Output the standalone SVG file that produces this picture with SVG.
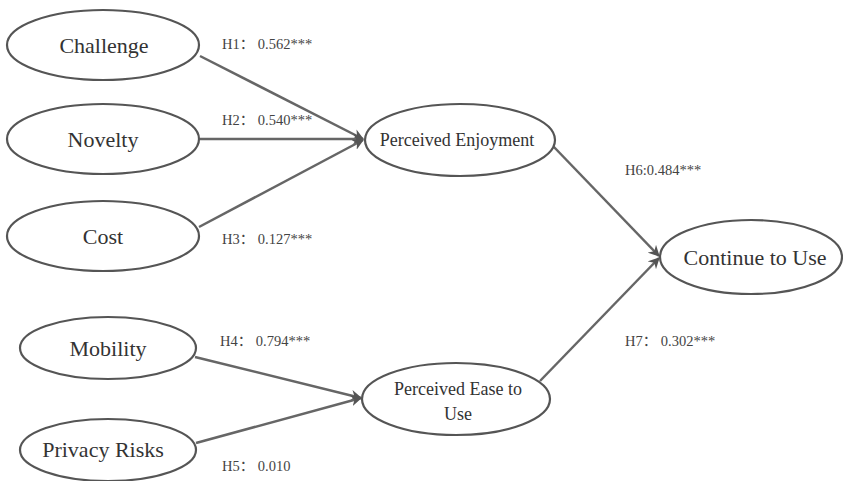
<svg xmlns="http://www.w3.org/2000/svg" width="843" height="481" viewBox="0 0 843 481">
<defs>
<style>
.node ellipse{fill:#fff;stroke:#555;stroke-width:2.2}
text{font-family:'Liberation Serif','Noto Sans CJK SC',serif}
.t{fill:#333;text-anchor:middle}
.big{font-size:22px}
.mid{font-size:18px}
.lab{font-size:14.5px;fill:#444}
.edge{stroke:#666;stroke-width:2.5;fill:none;marker-end:url(#ah)}
</style>
<marker id="ah" viewBox="0 0 10 10" refX="9" refY="5" markerWidth="4.5" markerHeight="4.5" orient="auto" markerUnits="strokeWidth">
<path d="M0,0 L10,5 L0,10 L3,5 z" fill="#555"/>
</marker>
</defs>
<rect width="843" height="481" fill="#fff"/>
<g id="connectors">
<line class="edge" x1="200" y1="56" x2="363" y2="139"/>
<line class="edge" x1="200" y1="139" x2="363" y2="139"/>
<line class="edge" x1="199" y1="227" x2="363" y2="140"/>
<line class="edge" x1="195" y1="357" x2="361" y2="398"/>
<line class="edge" x1="196" y1="443" x2="361" y2="398"/>
<line class="edge" x1="553" y1="146" x2="659" y2="256"/>
<line class="edge" x1="540" y1="381" x2="659" y2="258"/>
</g>
<g id="challenge" class="node"><ellipse cx="103" cy="45" rx="96" ry="35"/><text class="t big" x="104" y="53">Challenge</text></g>
<g id="novelty" class="node"><ellipse cx="103" cy="139" rx="96" ry="35"/><text class="t big" x="103" y="147">Novelty</text></g>
<g id="cost" class="node"><ellipse cx="103" cy="236" rx="96" ry="35"/><text class="t big" x="103" y="244">Cost</text></g>
<g id="mobility" class="node"><ellipse cx="108" cy="348" rx="88" ry="31"/><text class="t big" x="108" y="356">Mobility</text></g>
<g id="privacy" class="node"><ellipse cx="108" cy="450" rx="88" ry="31"/><text class="t big" x="103" y="457">Privacy Risks</text></g>
<g id="enjoyment" class="node"><ellipse cx="460" cy="140" rx="95" ry="36"/><text class="t mid" x="457" y="146">Perceived Enjoyment</text></g>
<g id="ease" class="node"><ellipse cx="456" cy="399" rx="94" ry="36"/><text class="t mid" x="458" y="395">Perceived Ease to</text><text class="t mid" x="458" y="420">Use</text></g>
<g id="continue" class="node"><ellipse cx="751" cy="257" rx="91" ry="37"/><text class="t big" x="755" y="265" font-size="23">Continue to Use</text></g>
<g id="labels">
<text class="lab" x="222" y="49">H1： 0.562***</text>
<text class="lab" x="222" y="125">H2： 0.540***</text>
<text class="lab" x="222" y="244">H3： 0.127***</text>
<text class="lab" x="220" y="346">H4： 0.794***</text>
<text class="lab" x="222" y="471">H5： 0.010</text>
<text class="lab" x="625" y="175">H6:0.484***</text>
<text class="lab" x="625" y="346">H7： 0.302***</text>
</g>
</svg>
